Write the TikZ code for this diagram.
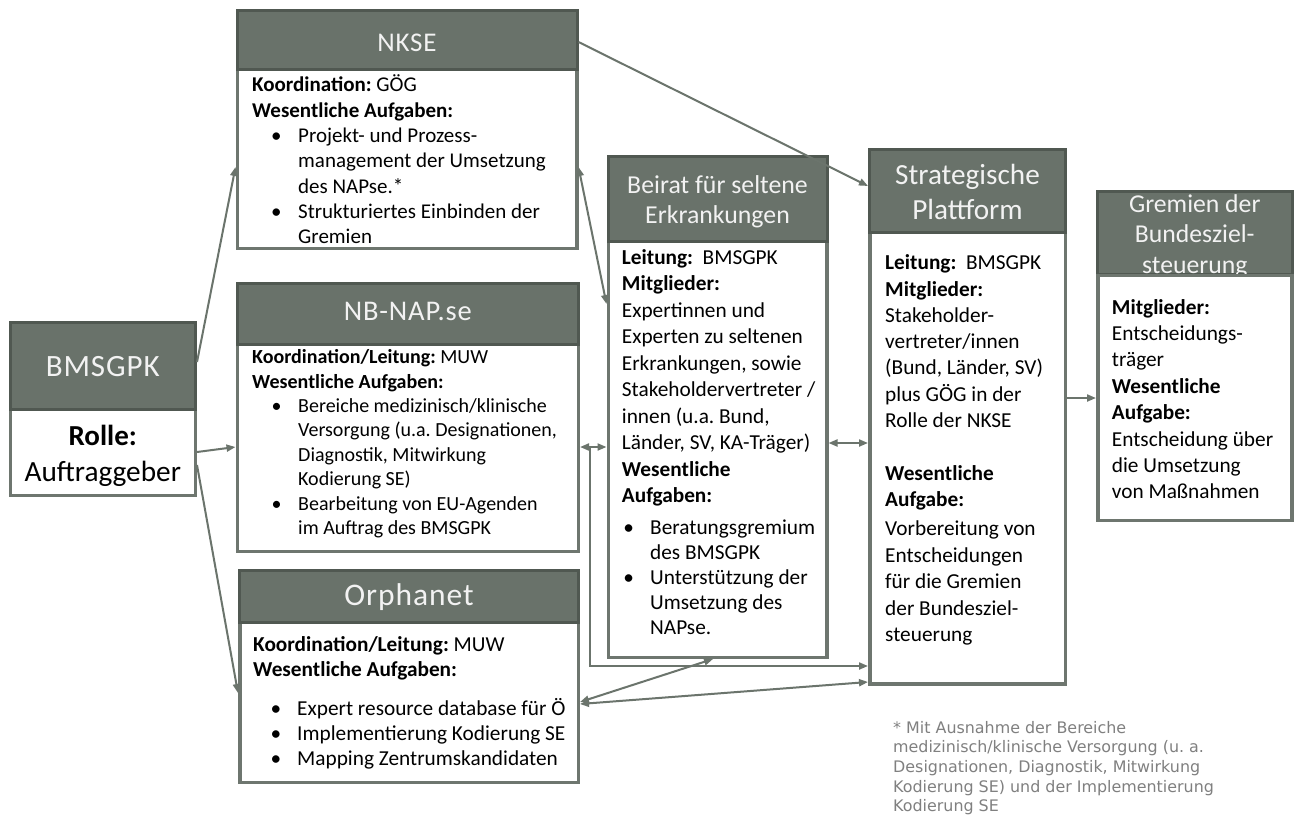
\documentclass[tikz,border=0pt]{standalone}
\usepackage{fontspec}
\setmainfont{Carlito}
\newfontfamily\headfont[LetterSpace=3]{Carlito}
\newfontfamily\notefont{DejaVu Sans}
\usetikzlibrary{arrows.meta}
\definecolor{headfill}{RGB}{105,114,106}
\definecolor{headline}{RGB}{80,88,81}
\definecolor{boxline}{RGB}{110,118,111}
\definecolor{linkc}{RGB}{107,116,108}
\definecolor{headtxt}{RGB}{242,242,242}
\definecolor{notegray}{RGB}{128,128,128}
% strut of one em: fixes the top of a text block
\newcommand\ts{\rule{0pt}{1em}}
% bullet point: #1 bullet offset, #2 text indent, #3 text (lines split by \newline)
\newcommand\bpt[3]{\par\hangindent=#2\hangafter=1\noindent\makebox[#2][l]{\ts\hspace*{#1}\textbullet}#3\par}
% panel: name, outer x0, y0, x1, y1, bottom of the title bar
\newcommand\panel[6]{%
  \node[bodybox, minimum width={(#4-#2-3.5)*1pt}, minimum height={(#5-#3-3.5)*1pt}] (#1) at (#2,#3) {};
  \node[headbox, minimum width={(#4-#2-3)*1pt}, minimum height={(#6-#3-3)*1pt}] (#1-h) at (#2,#3) {};}
\frenchspacing
\begin{document}
\begin{tikzpicture}[x=1pt,y=-1pt,
  >={Triangle[length=9pt,width=7pt]},
  bodybox/.style={draw=boxline, line width=3.5pt, fill=white, inner sep=0pt, anchor=north west},
  headbox/.style={draw=headline, line width=3pt, fill=headfill, inner sep=0pt, anchor=north west},
  headtext/.style={text=headtxt, inner sep=0pt},
  bodytext/.style={anchor=north west, inner sep=0pt, align=flush left, text width=340pt},
  link/.style={draw=linkc, line width=2pt, ->},
  duplex/.style={draw=linkc, line width=2pt, <->}]
\fill[white] (0,0) rectangle (1295,814);
\useasboundingbox (0,0) rectangle (1295,814);

% ---- BMSGPK
\panel{bmsgpk}{8.5}{320.5}{197}{497}{411}
\node[headtext, anchor=base, font=\headfont\fontsize{31}{31}\selectfont] (bmsgpk-t) at (102.75,376.9) {BMSGPK};
\node[anchor=base, inner sep=0pt, font=\bfseries\fontsize{29}{29}\selectfont] (bmsgpk-r) at (102.75,445.3) {Rolle:};
\node[anchor=base, inner sep=0pt, font=\fontsize{29.3}{29.3}\selectfont] (bmsgpk-a) at (102.75,481.4) {Auftraggeber};

% ---- NKSE
\panel{nkse}{235.5}{8.5}{578.5}{250}{71}
\node[headtext, anchor=base, font=\headfont\fontsize{27}{27}\selectfont] (nkse-t) at (407,51.3) {NKSE};
\node[bodytext, font=\fontsize{21}{25.3}\selectfont] (nkse-b) at (252,70.7) {\noindent\ts\textbf{Koordination:} GÖG\\\textbf{Wesentliche Aufgaben:}
\bpt{19pt}{46pt}{Projekt- und Prozess-\newline management der Umsetzung\newline des NAPse.*}
\bpt{19pt}{46pt}{Strukturiertes Einbinden der\newline Gremien}};

% ---- NB-NAP.se
\panel{nbnap}{235.5}{281.5}{580}{553}{346}
\node[headtext, anchor=base, font=\headfont\fontsize{28.5}{28.5}\selectfont] (nbnap-t) at (407.75,320.8) {NB-NAP.se};
\node[bodytext, font=\fontsize{20}{24.4}\selectfont] (nbnap-b) at (252,343.4) {\noindent\ts\textbf{Koordination/Leitung:} MUW\\\textbf{Wesentliche Aufgaben:}
\bpt{19.5pt}{46pt}{Bereiche medizinisch/klinische\newline Versorgung (u.a. Designationen,\newline Diagnostik, Mitwirkung\newline Kodierung SE)}
\bpt{19.5pt}{46pt}{Bearbeitung von EU-Agenden\newline im Auftrag des BMSGPK}};

% ---- Orphanet
\panel{orpha}{238}{569}{580}{784}{624}
\node[headtext, anchor=base, font=\headfont\fontsize{31.5}{31.5}\selectfont] (orpha-t) at (409,605.1) {Orphanet};
\node[bodytext, font=\fontsize{21.3}{25}\selectfont] (orpha-b) at (253,629.5) {\noindent\ts\textbf{Koordination/Leitung:} MUW\\\textbf{Wesentliche Aufgaben:}};
\node[bodytext, font=\fontsize{21.3}{25}\selectfont] (orpha-l) at (253,690.5) {%
\bpt{17.5pt}{44pt}{Expert resource database für Ö}
\bpt{17.5pt}{44pt}{Implementierung Kodierung SE}
\bpt{17.5pt}{44pt}{Mapping Zentrumskandidaten}};

% ---- Beirat
\panel{beirat}{606.5}{155}{828.5}{659}{243}
\node[headtext, anchor=north, align=center, font=\fontsize{25.8}{30}\selectfont] (beirat-t) at (717.5,167.5) {\ts Beirat für seltene\\Erkrankungen};
\node[bodytext, font=\fontsize{21.3}{26.5}\selectfont] (beirat-b) at (621.7,242.8) {\noindent\ts\textbf{Leitung:}\ \ BMSGPK\\\textbf{Mitglieder:}\\Expertinnen und\\Experten zu seltenen\\Erkrankungen, sowie\\Stakeholdervertreter /\\innen (u.a. Bund,\\Länder, SV, KA-Träger)\\\textbf{Wesentliche}\\\textbf{Aufgaben:}};
\node[bodytext, font=\fontsize{21.3}{25}\selectfont] (beirat-l) at (621.7,509.5) {%
\bpt{1.5pt}{28.3pt}{Beratungsgremium\newline des BMSGPK}
\bpt{1.5pt}{28.3pt}{Unterstützung der\newline Umsetzung des\newline NAPse.}};

% ---- Strategische Plattform
\panel{strat}{868}{147.5}{1067}{685.5}{234}
\node[headtext, anchor=north, align=center, font=\fontsize{29.2}{34.5}\selectfont] (strat-t) at (967.5,155.1) {\ts Strategische\\Plattform};
\node[bodytext, font=\fontsize{21.3}{26.3}\selectfont] (strat-b) at (885,248.2) {\noindent\ts\textbf{Leitung:}\ \ BMSGPK\\\textbf{Mitglieder:}\\Stakeholder-\\vertreter/innen\\(Bund, Länder, SV)\\plus GÖG in der\\Rolle der NKSE\\[26.3pt]\textbf{Wesentliche}\\\textbf{Aufgabe:}};
\node[bodytext, font=\fontsize{21.3}{26.4}\selectfont] (strat-c) at (885,514.4) {\noindent\ts Vorbereitung von\\Entscheidungen\\für die Gremien\\der Bundesziel-\\steuerung};

% ---- Gremien der Bundeszielsteuerung (title runs under the body)
\node[headbox, minimum width=194.5pt, minimum height=83pt] (gremien-h) at (1096,190) {};
\node[headtext, anchor=north, align=center, font=\fontsize{25.7}{30.3}\selectfont] (gremien-t) at (1194.75,186.5) {\ts Gremien der\\Bundesziel-\\steuerung};
\node[bodybox, minimum width=194pt, minimum height=245pt] (gremien) at (1096,273.5) {};
\node[bodytext, font=\fontsize{21.3}{26.4}\selectfont] (gremien-b) at (1111.7,292.5) {\noindent\ts\textbf{Mitglieder:}\\Entscheidungs-\\träger\\\textbf{Wesentliche}\\\textbf{Aufgabe:}\\Entscheidung über\\die Umsetzung\\von Maßnahmen};

% ---- footnote
\node[bodytext, text=notegray, font=\notefont\fontsize{15.9}{19.7}\selectfont] (note) at (893,716.9) {\noindent\ts* Mit Ausnahme der Bereiche\\medizinisch/klinische Versorgung (u. a.\\Designationen, Diagnostik, Mitwirkung\\Kodierung SE) und der Implementierung\\Kodierung SE};

% ---- connectors
\coordinate (tap) at (590,447);
\draw[link] (bmsgpk.east |- 0,362) -- (nkse.west |- 0,167);
\draw[link] (bmsgpk.east |- 0,452) -- (nbnap.west |- 0,447);
\draw[link] (bmsgpk.east |- 0,465) -- (orpha.west |- 0,693);
\draw[duplex] (nkse.east |- 0,167) -- (beirat.west |- 0,304);
\draw[link] (nkse.east |- 0,42) -- (strat.west |- 0,186);
\draw[duplex] (nbnap.east |- 0,447) -- (beirat.west |- 0,447);
\draw[link] (tap) |- (strat.west |- 0,666);
\draw[duplex] (beirat.east |- 0,443) -- (strat.west |- 0,443);
\draw[duplex] (orpha.east |- 0,702) -- (beirat.south -| 713,0);
\draw[duplex] (orpha.east |- 0,704) -- (strat.west |- 0,682);
\draw[link] (strat.east |- 0,398) -- (gremien.west |- 0,398);
\end{tikzpicture}
\end{document}
